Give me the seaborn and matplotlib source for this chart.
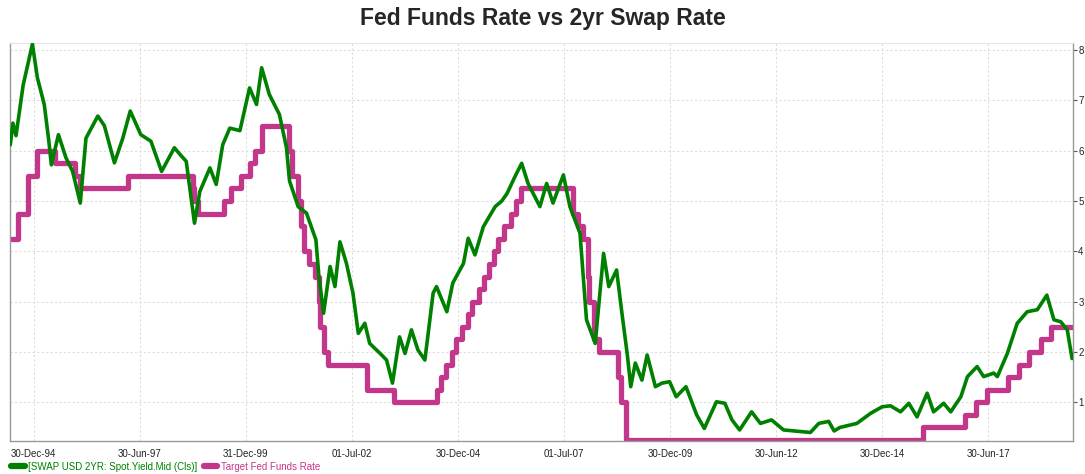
import pandas as pd
import numpy as np
import matplotlib
matplotlib.use("Agg")
import matplotlib.pyplot as plt
import matplotlib.dates as mdates
from matplotlib.lines import Line2D
import seaborn as sns

# 2yr swap rate
swap_dates = [
    "1994-06-13", "1994-07-05", "1994-08-01", "1994-10-01", "1994-12-20", "1995-02-01",
    "1995-04-01", "1995-05-10", "1995-06-01", "1995-08-01", "1995-10-05", "1995-12-01",
    "1996-02-05", "1996-03-25", "1996-07-05", "1996-08-30", "1996-11-25", "1997-02-05",
    "1997-04-10", "1997-07-10", "1997-10-05", "1998-01-05", "1998-04-25", "1998-06-15",
    "1998-08-05", "1998-10-15", "1998-11-30", "1999-02-25", "1999-04-20", "1999-06-15",
    "1999-08-15", "1999-11-10", "2000-02-01", "2000-04-01", "2000-05-15", "2000-07-20",
    "2000-10-15", "2000-12-15", "2001-01-10", "2001-03-25", "2001-06-05", "2001-08-25",
    "2001-09-20", "2001-10-30", "2001-12-25", "2002-02-05", "2002-03-20", "2002-05-15",
    "2002-07-10", "2002-08-25", "2002-10-20", "2002-12-01", "2003-03-01", "2003-04-25",
    "2003-06-15", "2003-08-15", "2003-10-01", "2003-11-25", "2004-01-20", "2004-03-20",
    "2004-05-30", "2004-06-28", "2004-09-25", "2004-11-15", "2005-02-15", "2005-03-28",
    "2005-05-25", "2005-08-05", "2005-11-15", "2006-01-10", "2006-02-25", "2006-05-05",
    "2006-07-01", "2006-08-25", "2006-12-05", "2007-02-01", "2007-03-28", "2007-06-25",
    "2007-08-20", "2007-11-15", "2008-01-10", "2008-03-25", "2008-06-05", "2008-07-20",
    "2008-09-25", "2008-11-10", "2008-12-25", "2009-01-25", "2009-03-05", "2009-05-01",
    "2009-06-15", "2009-08-25", "2009-10-20", "2009-12-25", "2010-02-20", "2010-05-15",
    "2010-08-15", "2010-10-20", "2011-02-01", "2011-04-15", "2011-06-15", "2011-08-20",
    "2011-12-01", "2012-02-15", "2012-05-20", "2012-09-01", "2013-01-20", "2013-04-20",
    "2013-07-01", "2013-09-25", "2013-11-10", "2013-12-31", "2014-05-25", "2014-09-20",
    "2014-12-28", "2015-03-10", "2015-06-05", "2015-08-15", "2015-10-25", "2016-01-20",
    "2016-03-15", "2016-06-10", "2016-08-10", "2016-11-05", "2017-01-01", "2017-03-25",
    "2017-05-20", "2017-08-15", "2017-09-15", "2017-12-10", "2018-03-05", "2018-05-30",
    "2018-08-25", "2018-11-15", "2019-01-15", "2019-03-15", "2019-05-10", "2019-06-20",
]
swap_values = [
    6.12, 6.55, 6.30, 7.30, 8.12, 7.45,
    6.92, 6.20, 5.72, 6.32, 5.86, 5.59,
    4.96, 6.25, 6.69, 6.50, 5.76, 6.25,
    6.79, 6.32, 6.19, 5.59, 6.06, 5.92,
    5.79, 4.56, 5.19, 5.66, 5.33, 6.12,
    6.45, 6.40, 7.25, 6.92, 7.65, 7.12,
    6.72, 6.06, 5.40, 4.89, 4.76, 4.23,
    3.50, 2.77, 3.70, 3.30, 4.19, 3.76,
    3.17, 2.37, 2.57, 2.17, 1.97, 1.84,
    1.38, 2.30, 1.97, 2.44, 2.04, 1.84,
    3.17, 3.30, 2.80, 3.37, 3.76, 4.26,
    3.93, 4.49, 4.89, 5.00, 5.15, 5.49,
    5.75, 5.35, 4.89, 5.35, 4.96, 5.52,
    4.89, 4.36, 2.64, 2.17, 3.96, 3.30,
    3.63, 2.77, 1.97, 1.31, 1.78, 1.44,
    1.94, 1.31, 1.38, 1.41, 1.11, 1.31,
    0.75, 0.48, 1.01, 0.98, 0.65, 0.45,
    0.81, 0.58, 0.65, 0.45, 0.42, 0.40,
    0.58, 0.62, 0.43, 0.50, 0.58, 0.78,
    0.91, 0.93, 0.81, 0.98, 0.71, 1.18,
    0.81, 0.98, 0.81, 1.11, 1.51, 1.71,
    1.51, 1.58, 1.51, 1.97, 2.57, 2.80,
    2.84, 3.13, 2.64, 2.60, 2.44, 1.87,
]

# Target fed funds rate (step changes)
fed_dates = [
    "1994-06-13", "1994-08-16", "1994-11-15", "1995-02-01", "1995-07-06", "1995-12-19",
    "1996-01-31", "1997-03-25", "1998-09-29", "1998-10-15", "1998-11-17", "1999-06-30",
    "1999-08-24", "1999-11-16", "2000-02-02", "2000-03-21", "2000-05-16", "2001-01-03",
    "2001-01-31", "2001-03-20", "2001-04-18", "2001-05-15", "2001-06-27", "2001-08-21",
    "2001-09-17", "2001-10-02", "2001-11-06", "2001-12-11", "2002-11-06", "2003-06-25",
    "2004-06-30", "2004-08-10", "2004-09-21", "2004-11-10", "2004-12-14", "2005-02-02",
    "2005-03-22", "2005-05-03", "2005-06-30", "2005-08-09", "2005-09-20", "2005-11-01",
    "2005-12-13", "2006-01-31", "2006-03-28", "2006-05-10", "2006-06-29", "2007-09-18",
    "2007-10-31", "2007-12-11", "2008-01-22", "2008-01-30", "2008-03-18", "2008-04-30",
    "2008-10-08", "2008-10-29", "2008-12-16", "2015-12-16", "2016-12-14", "2017-03-15",
    "2017-06-14", "2017-12-13", "2018-03-21", "2018-06-13", "2018-09-26", "2018-12-19",
    "2019-06-21",
]
fed_values = [
    4.25, 4.75, 5.50, 6.00, 5.75, 5.50,
    5.25, 5.50, 5.25, 5.00, 4.75, 5.00,
    5.25, 5.50, 5.75, 6.00, 6.50, 6.00,
    5.50, 5.00, 4.50, 4.00, 3.75, 3.50,
    3.00, 2.50, 2.00, 1.75, 1.25, 1.00,
    1.25, 1.50, 1.75, 2.00, 2.25, 2.50,
    2.75, 3.00, 3.25, 3.50, 3.75, 4.00,
    4.25, 4.50, 4.75, 5.00, 5.25, 4.75,
    4.50, 4.25, 3.50, 3.00, 2.25, 2.00,
    1.50, 1.00, 0.25, 0.50, 0.75, 1.00,
    1.25, 1.50, 1.75, 2.00, 2.25, 2.50,
    2.50,
]

tick_dates = ["1994-12-30", "1997-06-30", "1999-12-31", "2002-07-01", "2004-12-30",
              "2007-07-01", "2009-12-30", "2012-06-30", "2014-12-30", "2017-06-30"]

swap_label = "[SWAP USD 2YR: Spot.Yield.Mid (Cls)]"
fed_label = "Target Fed Funds Rate"
green = "#008000"
pink = "#C2378A"

swap = pd.DataFrame({"date": pd.to_datetime(swap_dates), "rate": swap_values})
fed = pd.DataFrame({"date": pd.to_datetime(fed_dates), "rate": fed_values})

sns.set_style("white")
plt.rcParams['font.family'] = ['Liberation Sans', 'DejaVu Sans']

fig = plt.figure(figsize=(10.85, 4.74), dpi=100)
ax = fig.add_axes([0.0092, 0.0696, 0.9795, 0.8405])

sns.lineplot(data=swap, x="date", y="rate", ax=ax, color=green, linewidth=2.6, zorder=3)
sns.lineplot(data=fed, x="date", y="rate", ax=ax, color=pink, linewidth=3.8,
             drawstyle="steps-post", zorder=2)

ax.set_xlim(pd.Timestamp("1994-06-10"), pd.Timestamp("2019-06-26"))
ax.set_ylim(0.23, 8.15)
ax.set_xlabel("")
ax.set_ylabel("")

ax.set_xticks(pd.to_datetime(tick_dates))
ax.xaxis.set_major_formatter(mdates.DateFormatter("%d-%b-%y"))
ax.set_yticks(range(1, 9))
ax.yaxis.tick_right()
ax.tick_params(axis="both", which="major", labelsize=7, length=3, width=0.8,
               color="#555555", labelcolor="#222222", direction="out", pad=1)
ax.tick_params(axis="x", pad=2.5)

ax.grid(True, linestyle=(0, (2, 2)), color="#dddddd", linewidth=0.8)
for side in ["left", "bottom", "right"]:
    ax.spines[side].set_color("#999999")
    ax.spines[side].set_linewidth(1.0)
ax.spines["top"].set_color("#e6e6e6")

fig.suptitle("Fed Funds Rate vs 2yr Swap Rate", fontsize=16.5, fontweight="bold",
             x=0.5, y=0.985)

handles = [Line2D([0], [0], color=green, lw=4.5), Line2D([0], [0], color=pink, lw=4.5)]
fig.legend(handles, [swap_label, fed_label], loc="lower left", bbox_to_anchor=(0.002, -0.014),
           ncol=2, frameon=False, fontsize=7, handlelength=1.4, handletextpad=0.4,
           columnspacing=0.6, labelcolor=[green, pink])

fig.savefig("out.png", dpi=100)
